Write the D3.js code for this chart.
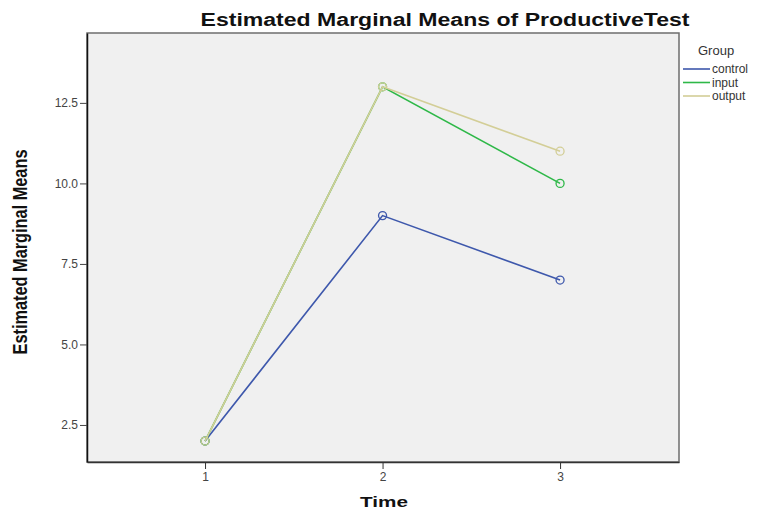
<!DOCTYPE html>
<meta charset="utf-8">
<html>
<head>
<script src="https://d3js.org/d3.v7.min.js" charset="utf-8"></script>
<style>
body { margin: 0; background: #fff; }
.tick text { font: 12px "Liberation Sans", Arial, sans-serif; fill: #444; }
.title { font: bold 18px "Liberation Sans", Arial, sans-serif; fill: #111; }
.xlabel { font: bold 15px "Liberation Sans", Arial, sans-serif; fill: #111; }
.ylabel { font: bold 20px "Liberation Sans", Arial, sans-serif; fill: #111; }
.legend text { font: 12px "Liberation Sans", Arial, sans-serif; fill: #333; }
</style>
</head>
<body>
<svg width="761" height="509"></svg>
<script type="text/javascript">
// data
var times = [1, 2, 3];
var groups = ["control", "input", "output"];
var control = [2, 9, 7];
var input = [2, 13, 10];
var output = [2, 13, 11];
var yTicks = [2.5, 5.0, 7.5, 10.0, 12.5];
var colors = ["#3e58ac", "#2eb848", "#d3ce97"];

var series = [control, input, output];

var svg = d3.select("svg"),
    margin = {top: 33, right: 82, bottom: 47, left: 87},
    width = +svg.attr("width") - margin.left - margin.right,
    height = +svg.attr("height") - margin.top - margin.bottom,
    g = svg.append("g").attr("transform", "translate(" + margin.left + "," + margin.top + ")");

var x = d3.scaleLinear()
    .domain([0.335, 3.67])
    .range([0, width]);

var y = d3.scaleLinear()
    .domain([1.35, 14.67])
    .range([height, 0]);

// plot background
g.append("rect")
    .attr("width", width)
    .attr("height", height)
    .attr("fill", "#f0f0f0")
    .attr("stroke", "#6e6e6e")
    .attr("stroke-width", 1.5);

var line = d3.line()
    .x(function(d, i) { return x(times[i]); })
    .y(function(d) { return y(d); });

series.forEach(function(s, k) {
    g.append("path")
        .datum(s)
        .attr("fill", "none")
        .attr("stroke", colors[k])
        .attr("stroke-width", 1.6)
        .attr("d", line);
    g.selectAll(".pt" + k)
      .data(s)
      .enter().append("circle")
        .attr("class", "pt" + k)
        .attr("cx", function(d, i) { return x(times[i]); })
        .attr("cy", function(d) { return y(d); })
        .attr("r", 4)
        .attr("fill", "none")
        .attr("stroke", colors[k])
        .attr("stroke-width", 1.3);
});

// axes
var yAxis = g.append("g")
    .call(d3.axisLeft(y).tickValues(yTicks).tickFormat(d3.format(".1f"))
        .tickSize(7).tickSizeOuter(0).tickPadding(2));
yAxis.select(".domain").attr("stroke", "#111").attr("stroke-width", 1.5);
yAxis.selectAll(".tick line").attr("stroke", "#444");

var xAxis = g.append("g")
    .attr("transform", "translate(0," + height + ")")
    .call(d3.axisBottom(x).tickValues(times).tickFormat(d3.format("d"))
        .tickSize(7).tickSizeOuter(0).tickPadding(3));
xAxis.select(".domain").attr("stroke", "#333").attr("stroke-width", 1.5);
xAxis.selectAll(".tick line").attr("stroke", "#333");

// titles
svg.append("text")
    .attr("class", "title")
    .attr("x", 445)
    .attr("y", 26)
    .attr("text-anchor", "middle")
    .attr("textLength", 489)
    .attr("lengthAdjust", "spacingAndGlyphs")
    .text("Estimated Marginal Means of ProductiveTest");

svg.append("text")
    .attr("class", "xlabel")
    .attr("x", 384)
    .attr("y", 507)
    .attr("text-anchor", "middle")
    .attr("textLength", 48)
    .attr("lengthAdjust", "spacingAndGlyphs")
    .text("Time");

svg.append("text")
    .attr("class", "ylabel")
    .attr("transform", "translate(27,252) rotate(-90)")
    .attr("text-anchor", "middle")
    .attr("textLength", 205)
    .attr("lengthAdjust", "spacingAndGlyphs")
    .text("Estimated Marginal Means");

// legend
var legend = svg.append("g").attr("class", "legend")
    .attr("transform", "translate(683,50)");

legend.append("text")
    .attr("x", 15)
    .attr("y", 5)
    .style("font-size", "13px")
    .text("Group");

var item = legend.selectAll(".item")
    .data(groups)
  .enter().append("g")
    .attr("class", "item")
    .attr("transform", function(d, i) { return "translate(0," + (19 + i * 13.5) + ")"; });

item.append("line")
    .attr("x1", 0)
    .attr("x2", 27)
    .attr("stroke", function(d, i) { return colors[i]; })
    .attr("stroke-width", 1.6);

item.append("text")
    .attr("x", 29)
    .attr("y", 4)
    .text(function(d) { return d; });
</script>
</body>
</html>
